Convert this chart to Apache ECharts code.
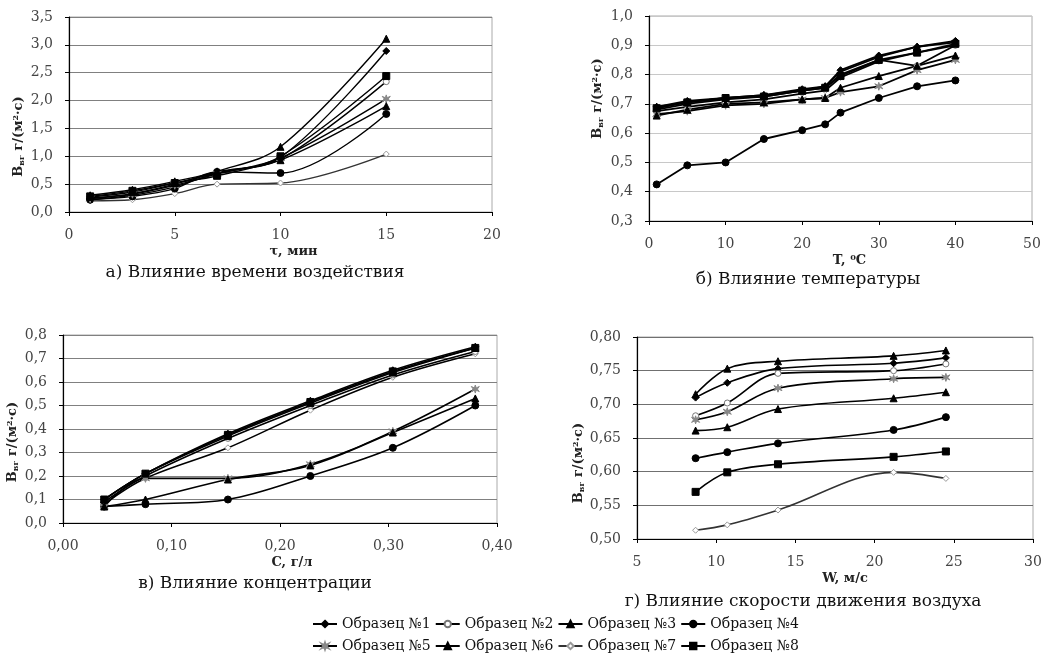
<!DOCTYPE html>
<html><head><meta charset="utf-8">
<script src="https://cdn.jsdelivr.net/npm/echarts@6/dist/echarts.min.js"></script>
<style>html,body{margin:0;padding:0;background:#fff}#c{width:1062px;height:661px}</style>
</head><body><div id="c"></div>
<script>
const names = ['Образец №1','Образец №2','Образец №3','Образец №4','Образец №5','Образец №6','Образец №7','Образец №8'];

// а) time
const xA = [1, 3, 5, 7, 10, 15];
const A1 = [0.25, 0.33, 0.50, 0.72, 0.98, 2.89];
const A2 = [0.22, 0.30, 0.45, 0.70, 0.95, 2.34];
const A3 = [0.30, 0.40, 0.55, 0.73, 1.17, 3.11];
const A4 = [0.22, 0.28, 0.42, 0.72, 0.70, 1.76];
const A5 = [0.24, 0.32, 0.48, 0.68, 0.97, 2.03];
const A6 = [0.27, 0.36, 0.52, 0.70, 0.93, 1.90];
const A7 = [0.20, 0.22, 0.33, 0.50, 0.52, 1.04];
const A8 = [0.28, 0.38, 0.52, 0.65, 1.00, 2.44];

// б) temperature
const xB = [1, 5, 10, 15, 20, 23, 25, 30, 35, 40];
const B1 = [0.69, 0.71, 0.72, 0.73, 0.75, 0.76, 0.815, 0.865, 0.895, 0.915];
const B2 = [0.68, 0.70, 0.715, 0.725, 0.745, 0.755, 0.80, 0.85, 0.83, 0.90];
const B3 = [0.69, 0.705, 0.72, 0.73, 0.745, 0.76, 0.81, 0.86, 0.895, 0.91];
const B4 = [0.425, 0.49, 0.50, 0.58, 0.61, 0.63, 0.67, 0.72, 0.76, 0.78];
const B5 = [0.665, 0.675, 0.695, 0.70, 0.715, 0.72, 0.74, 0.76, 0.815, 0.85];
const B6 = [0.66, 0.68, 0.70, 0.705, 0.715, 0.72, 0.755, 0.795, 0.83, 0.865];
const B7 = [0.675, 0.69, 0.705, 0.715, 0.735, 0.745, 0.79, 0.845, 0.875, 0.90];
const B8 = [0.685, 0.705, 0.72, 0.725, 0.745, 0.755, 0.795, 0.85, 0.875, 0.905];

// в) concentration
const xC = [0.038, 0.076, 0.152, 0.228, 0.304, 0.38];
const C1 = [0.10, 0.21, 0.38, 0.52, 0.65, 0.75];
const C2 = [0.09, 0.20, 0.36, 0.50, 0.63, 0.73];
const C3 = [0.10, 0.21, 0.37, 0.51, 0.64, 0.745];
const C4 = [0.07, 0.08, 0.10, 0.20, 0.32, 0.50];
const C5 = [0.07, 0.19, 0.19, 0.25, 0.39, 0.57];
const C6 = [0.07, 0.10, 0.185, 0.245, 0.385, 0.53];
const C7 = [0.08, 0.19, 0.32, 0.48, 0.62, 0.72];
const C8 = [0.10, 0.21, 0.375, 0.515, 0.645, 0.745];

// г) air speed
const xD = [8.7, 10.7, 13.9, 21.2, 24.5];
const D1 = [0.710, 0.732, 0.753, 0.761, 0.769];
const D2 = [0.683, 0.702, 0.746, 0.750, 0.760];
const D3 = [0.715, 0.753, 0.764, 0.772, 0.780];
const D4 = [0.620, 0.629, 0.642, 0.662, 0.681];
const D5 = [0.677, 0.689, 0.724, 0.738, 0.740];
const D6 = [0.661, 0.666, 0.693, 0.709, 0.718];
const D7 = [0.513, 0.521, 0.543, 0.599, 0.590];
const D8 = [0.570, 0.599, 0.611, 0.622, 0.630];

const FONT = 'DejaVu Serif';
const star = 'path://M5,0 L6,3.6 L9.3,1.8 L7.2,5 L9.3,8.2 L6,6.4 L5,10 L4,6.4 L0.7,8.2 L2.8,5 L0.7,1.8 L4,3.6 Z';
const sym = [
  {symbol:'diamond', color:'#000', fill:'#000', size:7},
  {symbol:'circle', color:'#777', fill:'#fff', size:6},
  {symbol:'triangle', color:'#000', fill:'#000', size:7},
  {symbol:'circle', color:'#000', fill:'#000', size:7},
  {symbol:star, color:'#888', fill:'#888', size:8},
  {symbol:'triangle', color:'#000', fill:'#000', size:7},
  {symbol:'diamond', color:'#999', fill:'#fff', size:6},
  {symbol:'rect', color:'#000', fill:'#000', size:7}
];
const sets = [
  {x:xA, ys:[A1,A2,A3,A4,A5,A6,A7,A8], smooth:true, lw:1.4},
  {x:xB, ys:[B1,B2,B3,B4,B5,B6,B7,B8], smooth:false, lw:1.8},
  {x:xC, ys:[C1,C2,C3,C4,C5,C6,C7,C8], smooth:true, lw:1.6},
  {x:xD, ys:[D1,D2,D3,D4,D5,D6,D7,D8], smooth:true, lw:1.6}
];
const grids = [
  {left:69, top:17, width:423, height:195},
  {left:649, top:16, width:383, height:205},
  {left:63, top:335, width:434, height:188},
  {left:637, top:337, width:396, height:202}
];
const xCfg = [
  {min:0, max:20, interval:5, dec:0, name:'τ, мин', shift:13},
  {min:0, max:50, interval:10, dec:0, name:'T, ⁰C', shift:9},
  {min:0, max:0.4, interval:0.1, dec:2, name:'C, г/л', shift:12},
  {min:5, max:30, interval:5, dec:0, name:'W, м/с', shift:10}
];
// shift: + moves the axis title down, - moves it up
const yCfg = [
  {min:0, max:3.5, interval:0.5, dec:1, gap:43, shift:22, grid:'#808080'},
  {min:0.3, max:1.0, interval:0.1, dec:1, gap:44, shift:-20, grid:'#c8c8c8'},
  {min:0, max:0.8, interval:0.1, dec:1, gap:43, shift:13, grid:'#808080'},
  {min:0.5, max:0.8, interval:0.05, dec:2, gap:51, shift:25, grid:'#707070'}
];
const fmt = d => v => v.toFixed(d).replace('.', ',');
const yName = 'B{s|вг} г/(м{p|2}·с)';
const xAxis = xCfg.map((c,i)=>({
  type:'value', gridIndex:i, min:c.min, max:c.max, interval:c.interval,
  name:c.name, nameLocation:'middle', nameGap:33,
  nameTextStyle:{fontFamily:FONT, fontWeight:'bold', fontSize:13, color:'#222', padding:[0,0,0,2*c.shift]},
  axisLine:{show:true, onZero:false, lineStyle:{color:'#000', width:1.2}},
  axisTick:{show:true, length:4, lineStyle:{color:'#000'}},
  axisLabel:{formatter:fmt(c.dec), fontFamily:FONT, fontSize:14, color:'#444', margin:16},
  splitLine:{show:false}
}));
const yAxis = yCfg.map((c,i)=>({
  type:'value', gridIndex:i, min:c.min, max:c.max, interval:c.interval,
  name:yName, nameLocation:'middle', nameGap:c.gap, nameRotate:90,
  nameTextStyle:{fontFamily:FONT, fontWeight:'bold', fontSize:13, color:'#222',
    padding: c.shift>0 ? [0, 2*c.shift, 0, 0] : [0, 0, 0, -2*c.shift],
    rich:{s:{fontFamily:FONT, fontWeight:'bold', fontSize:8, color:'#222', verticalAlign:'bottom', padding:[6,0,0,0]},
          p:{fontFamily:FONT, fontWeight:'bold', fontSize:8, color:'#222', verticalAlign:'top'}}},
  axisLine:{show:true, onZero:false, lineStyle:{color:'#000', width:1.2}},
  axisTick:{show:true, length:4, lineStyle:{color:'#000'}},
  axisLabel:{formatter:fmt(c.dec), fontFamily:FONT, fontSize:14, color:'#444', margin:16},
  splitLine:{show:true, lineStyle:{color:c.grid, width:1}}
}));
const series = [];
sets.forEach((s,gi)=>{
  s.ys.forEach((ys,k)=>{
    series.push({
      name:names[k], type:'line', xAxisIndex:gi, yAxisIndex:gi, smooth:s.smooth?0.35:false,
      data:s.x.map((x,j)=>[x, ys[j]]),
      symbol:sym[k].symbol, symbolSize:sym[k].size, showSymbol:true,
      lineStyle:{color:(gi===0||gi===3)&&k===6?'#333':'#000', width:s.lw},
      itemStyle:{color:sym[k].fill, borderColor:sym[k].color, borderWidth:1},
      z:k===6?1:2
    });
  });
});
const titles = [
  {text:'а) Влияние времени воздействия', left:255, top:264},
  {text:'б) Влияние температуры', left:808, top:271},
  {text:'в) Влияние концентрации', left:255, top:575},
  {text:'г) Влияние скорости движения воздуха', left:803, top:593}
].map(t=>({text:t.text, left:t.left, top:t.top, textAlign:'center', padding:0,
  textStyle:{fontFamily:FONT, fontWeight:'normal', fontSize:17, color:'#111'}}));
const legStyle = {fontFamily:FONT, fontSize:14, color:'#111'};
const chart = echarts.init(document.getElementById('c'));
chart.setOption({
  animation:false,
  backgroundColor:'#fff',
  title:titles,
  grid:grids.map(g=>Object.assign({show:true, borderColor:'#aaa', borderWidth:1, backgroundColor:'transparent'}, g)),
  xAxis, yAxis, series,
  legend:[
    {data:names.slice(0,4), left:312, top:617, itemWidth:24, itemHeight:8, itemGap:4, textStyle:legStyle, padding:0},
    {data:names.slice(4,8), left:312, top:639, itemWidth:24, itemHeight:8, itemGap:4, textStyle:legStyle, padding:0}
  ]
});
</script></body></html>
